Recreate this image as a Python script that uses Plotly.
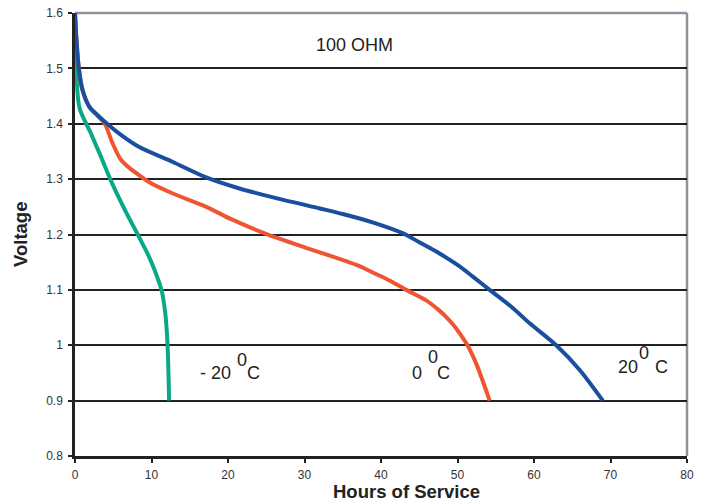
import plotly.graph_objects as go

# 20 °C
hours_20 = [0, 0.2, 0.5, 1, 1.9, 3, 4.2, 6, 8.4, 12.8, 17.15, 21.5, 25.9, 32, 35, 38.9, 42.9, 45, 47.6, 50, 52, 54.2, 57, 59.4, 62.9, 66, 69]
volt_20 = [1.6, 1.55, 1.5, 1.46, 1.43, 1.415, 1.4, 1.38, 1.358, 1.331, 1.303, 1.283, 1.267, 1.247, 1.237, 1.222, 1.202, 1.186, 1.166, 1.145, 1.124, 1.1, 1.07, 1.04, 1.0, 0.955, 0.9]

# 0 °C
hours_0 = [0, 0.2, 0.5, 1, 1.9, 2.9, 3.9, 4.9, 6.0, 7.3, 8.4, 10, 12.8, 17.15, 20.2, 24.8, 30.2, 33.5, 36.8, 39, 41.1, 43.3, 45.9, 47.6, 48.6, 49.5, 50.4, 51.3, 52.5, 54.2]
volt_0 = [1.6, 1.55, 1.5, 1.46, 1.43, 1.415, 1.4, 1.365, 1.335, 1.318, 1.307, 1.292, 1.274, 1.25, 1.229, 1.202, 1.176, 1.161, 1.145, 1.131, 1.117, 1.1, 1.081, 1.063, 1.05, 1.036, 1.019, 1.0, 0.965, 0.9]

# -20 °C
hours_m20 = [0, 0.15, 0.6, 2, 3.5, 4.6, 6.5, 8.2, 9.5, 10.4, 11.3, 11.8, 12.1, 12.3]
volt_m20 = [1.6, 1.5, 1.428, 1.385, 1.337, 1.3, 1.245, 1.2, 1.165, 1.136, 1.1, 1.058, 1.0, 0.9]

x_ticks = [0, 10, 20, 30, 40, 50, 60, 70, 80]
y_ticks = [0.8, 0.9, 1.0, 1.1, 1.2, 1.3, 1.4, 1.5, 1.6]

BLUE = "#1A4E9F"
ORANGE = "#F05533"
GREEN = "#0BA888"
GRAY = "#8C959D"
TXT = "#222222"
FONT = "Liberation Sans, Arial, sans-serif"

L, T, R, B = 75, 13, 20, 48
W, H = 707, 504
PW, PH = W - L - R, H - T - B

fig = go.Figure()
for xs, ys, col in [(hours_m20, volt_m20, GREEN), (hours_0, volt_0, ORANGE), (hours_20, volt_20, BLUE)]:
    fig.add_trace(go.Scatter(x=xs, y=ys, mode="lines", hoverinfo="skip",
                             line=dict(color=col, width=4, shape="spline", smoothing=0.8),
                             showlegend=False))

fig.update_layout(
    width=W, height=H,
    margin=dict(l=L, r=R, t=T, b=B, pad=0),
    paper_bgcolor="white", plot_bgcolor="white",
    font=dict(family=FONT, color=TXT),
    xaxis=dict(range=[0, 80], tickvals=x_ticks, ticks="outside", ticklen=4, tickwidth=2,
               tickcolor="#222", showline=True, linecolor="#222", linewidth=2.5,
               showgrid=False, zeroline=False, automargin=False, ticklabelstandoff=2,
               ticklabeloverflow="allow", tickfont=dict(size=12, color="#333")),
    yaxis=dict(range=[0.8, 1.6], tickvals=y_ticks, ticks="outside", ticklen=4, tickwidth=2,
               tickcolor="#222", showline=True, linecolor="#222", linewidth=2.5,
               showgrid=True, gridcolor="#222", gridwidth=2, zeroline=False, automargin=False,
               ticklabelstandoff=3, ticklabeloverflow="allow",
               tickfont=dict(size=12, color="#333")),
    shapes=[
        dict(type="line", xref="paper", yref="paper", x0=0, x1=1, y0=1, y1=1,
             line=dict(color=GRAY, width=2.5), layer="between"),
        dict(type="line", xref="paper", yref="paper", x0=1, x1=1, y0=0, y1=1,
             line=dict(color=GRAY, width=2.5), layer="between"),
    ],
)

def label(x, y, text, size=18):
    fig.add_annotation(x=x, y=y, xref="x", yref="y", text=text, showarrow=False,
                       xanchor="left", yanchor="middle", font=dict(size=size, color=TXT, family=FONT))

fig.add_annotation(x=36.5, y=1.542, xref="x", yref="y", text="100 OHM", showarrow=False,
                   xanchor="center", yanchor="middle", font=dict(size=18, color=TXT, family=FONT))
label(16.1, 0.95, "- 20")
label(20.9, 0.974, "0")
label(22.2, 0.95, "C")
label(43.8, 0.95, "0")
label(45.9, 0.979, "0")
label(47.1, 0.95, "C")
label(70.7, 0.961, "20")
label(73.5, 0.986, "0")
label(75.6, 0.961, "C")

def px_to_paper(px, py):
    return (px - L) / PW, (H - B - py) / PH

hx, hy = px_to_paper(406, 492)
fig.add_annotation(x=hx, y=hy, xref="paper", yref="paper", text="<b>Hours of Service</b>",
                   showarrow=False, xanchor="center", yanchor="middle",
                   font=dict(size=18.5, color=TXT, family=FONT))
vx, vy = px_to_paper(20, 235)
fig.add_annotation(x=vx, y=vy, xref="paper", yref="paper", text="<b>Voltage</b>",
                   showarrow=False, textangle=-90, xanchor="center", yanchor="middle",
                   font=dict(size=18.5, color=TXT, family=FONT))

fig.write_html("out.html", config={"displayModeBar": False},
               post_script="document.body.style.margin='0';document.body.style.overflow='hidden';")
